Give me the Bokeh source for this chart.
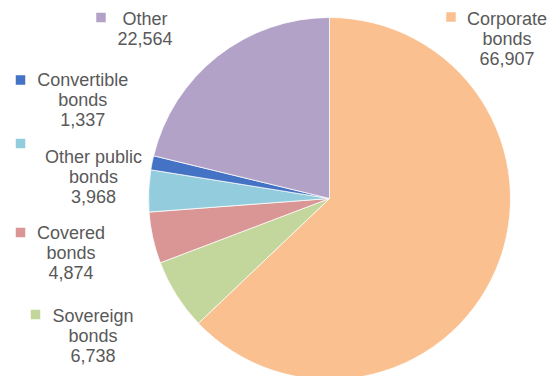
from bokeh.plotting import figure
from bokeh.models import Range1d, ColumnDataSource
from bokeh.core.properties import value
from bokeh.embed import file_html
from bokeh.resources import INLINE
import math

# ---- data ----
categories = ["Corporate\nbonds", "Sovereign\nbonds", "Covered\nbonds",
              "Other public\nbonds", "Convertible\nbonds", "Other"]
values = [66907, 6738, 4874, 3968, 1337, 22564]
colors = ["#FAC090", "#C3D69B", "#D99694", "#93CDDD", "#4472C4", "#B3A2C7"]

# ---- layout (screen-pixel positions inside the figure) ----
W, H = 555, 376
cx, cy, r = 329, 198, 181
label_x = [506.5, 92.5, 70.5, 93.0, 82.3, 144.5]
label_y = [8.0, 305.0, 222.5, 146.5, 69.5, 8.5]   # top of first line
key_x = [450.5, 35.0, 20.0, 20.0, 20.0, 100.5]
key_y = [16.5, 314.0, 232.0, 143.0, 79.5, 17.0]

total = float(sum(values))
starts, ends = [], []
a = math.pi / 2
for v in values:
    starts.append(a)
    a -= 2 * math.pi * v / total
    ends.append(a)

texts = [c + "\n" + f"{v:,}" for c, v in zip(categories, values)]

p = figure(width=W, height=H, output_backend="svg", toolbar_location=None,
           x_range=Range1d(0, W), y_range=Range1d(-H, 0), min_border=0)
p.axis.visible = False
p.grid.visible = False
p.outline_line_color = None
p.background_fill_color = "white"
p.border_fill_color = "white"

wsrc = ColumnDataSource(dict(start=starts, end=ends, color=colors))
p.wedge(x=cx, y=-cy, radius=r, radius_units="screen", start_angle="start",
        end_angle="end", direction="clock", fill_color="color",
        line_color="white", line_width=0.75, source=wsrc)

ksrc = ColumnDataSource(dict(x=key_x, y=[-v for v in key_y], color=colors))
p.scatter(x="x", y="y", marker="square", size=9.5, fill_color="color",
          line_color=None, source=ksrc)

tsrc = ColumnDataSource(dict(x=label_x, y=[-v for v in label_y], t=texts))
p.text(x="x", y="y", text="t", source=tsrc, text_align="center",
       text_baseline="top", text_font=value("Liberation Sans"),
       text_font_size="18px", text_color="#595959", text_line_height=1.0)

open("out.html", "w").write(file_html(p, INLINE))
